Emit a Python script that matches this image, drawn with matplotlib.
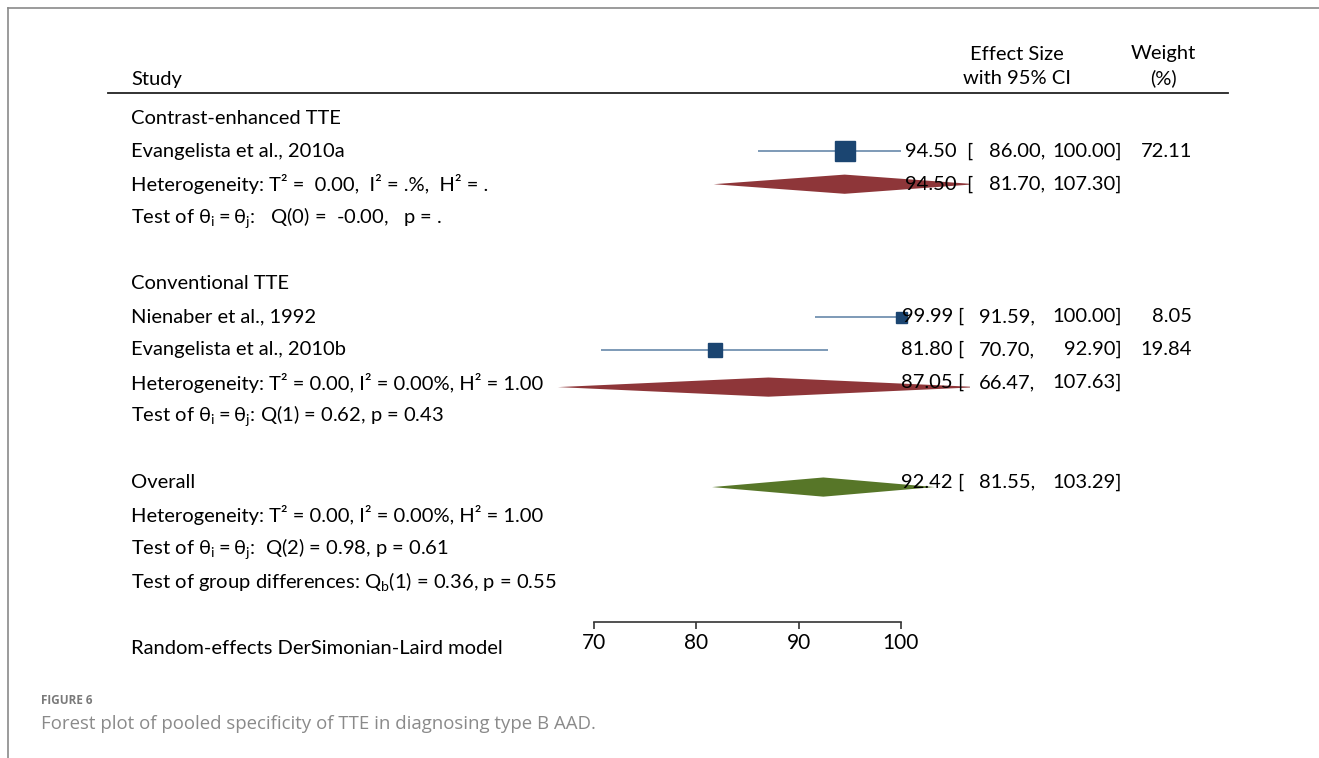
import matplotlib
matplotlib.use("Agg")
import matplotlib.pyplot as plt
import matplotlib.transforms as mtransforms
from matplotlib.patches import Polygon
from matplotlib import font_manager

# Study-level data
studies = ["Evangelista et al., 2010a", "Nienaber et al., 1992", "Evangelista et al., 2010b"]
study_es = [94.50, 99.99, 81.80]
study_lo = [86.00, 91.59, 70.70]
study_hi = [100.00, 100.00, 92.90]
study_wt = [72.11, 8.05, 19.84]

# Pooled estimates (subgroup 1, subgroup 2, overall)
pooled_es = [94.50, 87.05, 92.42]
pooled_lo = [81.70, 66.47, 81.55]
pooled_hi = [107.30, 107.63, 103.29]

groups = ["Contrast-enhanced TTE", "Conventional TTE"]
het_lines = [
    "Heterogeneity: T\u00b2 =  0.00,  I\u00b2 = .%,  H\u00b2 = .",
    "Heterogeneity: T\u00b2 = 0.00, I\u00b2 = 0.00%, H\u00b2 = 1.00",
    "Heterogeneity: T\u00b2 = 0.00, I\u00b2 = 0.00%, H\u00b2 = 1.00",
]
test_lines = [
    r"Test of $\mathregular{\theta_i = \theta_j}$:   Q(0) =  -0.00,   p = .",
    r"Test of $\mathregular{\theta_i = \theta_j}$: Q(1) = 0.62, p = 0.43",
    r"Test of $\mathregular{\theta_i = \theta_j}$:  Q(2) = 0.98, p = 0.61",
]
group_test = r"Test of group differences: $\mathregular{Q_b}$(1) = 0.36, p = 0.55"
model_note = "Random-effects DerSimonian-Laird model"
xticks = [70, 80, 90, 100]

# row index of every line in the table
study_rows = [1, 6, 7]
pooled_rows = [2, 8, 11]
pooled_shift = [0.0, 0.13, 0.15]   # diamonds sit a touch low in the original

avail = {f.name for f in font_manager.fontManager.ttflist}
FONT = "Liberation Sans Narrow" if "Liberation Sans Narrow" in avail else "Lato"
plt.rcParams["font.family"] = [FONT, "DejaVu Sans"]
FS = 14.5 if FONT == "Lato" else 15.5

W, H = 1319, 758
fig = plt.figure(figsize=(W / 100, H / 100), dpi=100)

# pixel helpers
def fx(px):
    return px / W

def fy(py):
    return 1 - py / H

ROW0, ROWH = 118, 33.1
def row_of(py):
    return (py - ROW0) / ROWH

PX70, PX_PER = 594, 10.23
def unit_of(px):
    return 70 + (px - PX70) / PX_PER

ax_l, ax_r, ax_t, ax_b = 540, 970, 93, 622
ax = fig.add_axes([fx(ax_l), fy(ax_b), fx(ax_r) - fx(ax_l), fy(ax_t) - fy(ax_b)])
ax.set_xlim(unit_of(ax_l), unit_of(ax_r))
ax.set_ylim(row_of(ax_b), row_of(ax_t))
ax.patch.set_alpha(0)
for s in ["top", "left", "right"]:
    ax.spines[s].set_visible(False)
ax.spines["bottom"].set_bounds(xticks[0], xticks[-1])
ax.spines["bottom"].set_linewidth(1.2)
ax.spines["bottom"].set_color("#333333")
ax.set_yticks([])
ax.set_xticks(xticks)
ax.tick_params(axis="x", direction="out", length=5, width=1.2, color="#333333",
               labelsize=FS + 0.5, pad=3)

sq_col = "#1b4571"
ci_col = "#5a7ea3"
red = "#8e3639"
green = "#577628"

for r, es, lo, hi, w in zip(study_rows, study_es, study_lo, study_hi, study_wt):
    ax.plot([lo, hi], [r, r], color=ci_col, lw=1.1, solid_capstyle="butt", zorder=2)
    side = 11 * (w / 8.05) ** 0.273
    ax.plot(es, r, marker="s", ms=side * 0.72, color=sq_col, mec=sq_col, zorder=3)

hd = 0.29
for r, dy, es, lo, hi, col in zip(pooled_rows, pooled_shift, pooled_es, pooled_lo, pooled_hi,
                                   [red, red, green]):
    y = r + dy
    poly = Polygon([[lo, y], [es, y - hd], [hi, y], [es, y + hd]], closed=True,
                   facecolor=col, edgecolor="none", zorder=2)
    ax.add_patch(poly)

# text columns: x in figure fraction, y in table rows
tr = mtransforms.blended_transform_factory(fig.transFigure, ax.transData)

def put(px, row, s, ha="left", **kw):
    ax.text(fx(px), row, s, transform=tr, ha=ha, va="center", fontsize=FS,
            clip_on=False, zorder=5, **kw)

LX = 131
put(LX, 0, groups[0])
put(LX, 1, studies[0])
put(LX, 2, het_lines[0])
put(LX, 3, test_lines[0])
put(LX, 5, groups[1])
put(LX, 6, studies[1])
put(LX, 7, studies[2])
put(LX, 8, het_lines[1])
put(LX, 9, test_lines[1])
put(LX, 11, "Overall")
put(LX, 12, het_lines[2])
put(LX, 13, test_lines[2])
put(LX, 14, group_test)
put(LX, row_of(649), model_note)

# effect size columns
def es_cols(row, es, lo, hi, wide):
    if wide:
        xs = (957, 966, 1045)
    else:
        xs = (953, 957, 1035)
    put(xs[0], row, f"{es:.2f}", ha="right")
    put(xs[1], row, "[")
    put(xs[2], row, f"{lo:.2f},", ha="right")
    put(1122, row, f"{hi:.2f}]", ha="right")

for r, es, lo, hi, w in zip(study_rows, study_es, study_lo, study_hi, study_wt):
    es_cols(r, es, lo, hi, r < 4)
    put(1192, r, f"{w:.2f}", ha="right")
for r, es, lo, hi in zip(pooled_rows, pooled_es, pooled_lo, pooled_hi):
    es_cols(r, es, lo, hi, r < 4)

# headers
put(131, row_of(79), "Study")
put(1017, row_of(54), "Effect Size", ha="center")
put(1017, row_of(78), "with 95% CI", ha="center")
put(1163, row_of(54), "Weight", ha="center")
put(1163, row_of(78), "(%)", ha="center")
fig.add_artist(plt.Line2D([fx(108), fx(1228)], [fy(93), fy(93)], color="#222222", lw=1.3))

# page frame and caption
fig.add_artist(plt.Line2D([fx(8), fx(8)], [fy(8), 0], color="#8a8a8a", lw=1.2))
fig.add_artist(plt.Line2D([fx(8), 1], [fy(8), fy(8)], color="#8a8a8a", lw=1.2))
fig.text(fx(41), fy(701), "FIGURE 6", fontsize=8.5, color="#7a7a7a", fontweight="bold",
         family=["Open Sans", "DejaVu Sans"], va="center")
fig.text(fx(41), fy(724), "Forest plot of pooled specificity of TTE in diagnosing type B AAD.",
         fontsize=13.4, color="#8a8a8a", family=["Open Sans", "DejaVu Sans"], va="center")

fig.savefig("out.png", dpi=100)
